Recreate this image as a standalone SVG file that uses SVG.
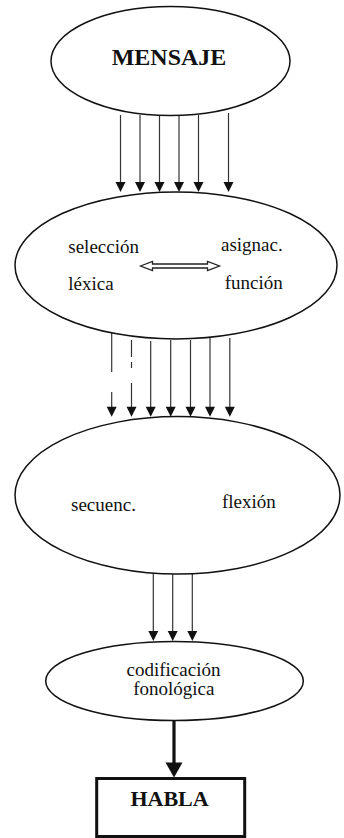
<svg xmlns="http://www.w3.org/2000/svg" width="344" height="838" viewBox="0 0 344 838">
<defs>
<style>
.node{fill:#fff;stroke:#111;stroke-width:1.5}
.t{font-size:19px;fill:#111}
.b{font-weight:bold;fill:#111}
.ln{stroke:#333;stroke-width:1.2;fill:none}
.hd{fill:#111}
</style>
</defs>
<rect width="344" height="838" fill="#fff"/>
<g id="connectors">
  <g>
    <line class="ln" x1="120.5" y1="115" x2="120.5" y2="183"/>
    <line class="ln" x1="140" y1="115" x2="140" y2="183"/>
    <line class="ln" x1="159.5" y1="115" x2="159.5" y2="183"/>
    <line class="ln" x1="179" y1="115" x2="179" y2="183"/>
    <line class="ln" x1="198.5" y1="115" x2="198.5" y2="183"/>
    <line class="ln" x1="228.5" y1="113" x2="228.5" y2="183"/>
    <polygon class="hd" points="115.5,182 125.5,182 120.5,192"/>
    <polygon class="hd" points="135,182 145,182 140,192"/>
    <polygon class="hd" points="154.5,182 164.5,182 159.5,192"/>
    <polygon class="hd" points="174,182 184,182 179,192"/>
    <polygon class="hd" points="193.5,182 203.5,182 198.5,192"/>
    <polygon class="hd" points="223.5,182 233.5,182 228.5,192"/>
  </g>
  <g>
    <line class="ln" x1="111.7" y1="330" x2="111.7" y2="372"/>
    <line class="ln" x1="111.7" y1="392" x2="111.7" y2="408"/>
    <line class="ln" x1="131.5" y1="340" x2="131.5" y2="357"/>
    <line class="ln" x1="131.5" y1="362" x2="131.5" y2="368"/>
    <line class="ln" x1="131.5" y1="383" x2="131.5" y2="408"/>
    <line class="ln" x1="150.7" y1="341" x2="150.7" y2="408"/>
    <line class="ln" x1="170.7" y1="340" x2="170.7" y2="408"/>
    <line class="ln" x1="190.5" y1="340" x2="190.5" y2="408"/>
    <line class="ln" x1="210" y1="338" x2="210" y2="408"/>
    <line class="ln" x1="229.8" y1="338" x2="229.8" y2="408"/>
    <polygon class="hd" points="106.7,406.7 116.7,406.7 111.7,416.7"/>
    <polygon class="hd" points="126.5,406.7 136.5,406.7 131.5,416.7"/>
    <polygon class="hd" points="145.7,406.7 155.7,406.7 150.7,416.7"/>
    <polygon class="hd" points="165.7,406.7 175.7,406.7 170.7,416.7"/>
    <polygon class="hd" points="185.5,406.7 195.5,406.7 190.5,416.7"/>
    <polygon class="hd" points="205,406.7 215,406.7 210,416.7"/>
    <polygon class="hd" points="224.8,406.7 234.8,406.7 229.8,416.7"/>
  </g>
  <g>
    <line class="ln" x1="153.3" y1="573" x2="153.3" y2="632"/>
    <line class="ln" x1="172.7" y1="574" x2="172.7" y2="632"/>
    <line class="ln" x1="192.3" y1="573" x2="192.3" y2="632"/>
    <polygon class="hd" points="148.3,631 158.3,631 153.3,641"/>
    <polygon class="hd" points="167.7,631 177.7,631 172.7,641"/>
    <polygon class="hd" points="187.3,631 197.3,631 192.3,641"/>
  </g>
  <g>
    <line x1="174" y1="720" x2="174" y2="764" stroke="#111" stroke-width="3.2"/>
    <polygon class="hd" points="165.5,762.5 182.5,762.5 174,777.5"/>
  </g>
</g>
<g font-family="'Liberation Serif', 'Times New Roman', 'DejaVu Serif', serif">
<g id="mensaje">
  <ellipse class="node" cx="170.5" cy="61" rx="119.5" ry="54.5"/>
  <text class="b" x="169" y="65" font-size="24" text-anchor="middle">MENSAJE</text>
</g>
<g id="seleccion">
  <ellipse class="node" cx="176" cy="265.5" rx="161" ry="73.5"/>
  <text class="t" x="68.3" y="252.5">selección</text>
  <text class="t" x="68.3" y="290">léxica</text>
  <text class="t" x="282.7" y="251" text-anchor="end">asignac.</text>
  <text class="t" x="282.7" y="289.3" text-anchor="end">función</text>
  <polygon points="140.5,266 152.5,261.5 152.5,264 207.5,264 207.5,261.5 219.5,266 207.5,270.5 207.5,268 152.5,268 152.5,270.5" fill="#fff" stroke="#222" stroke-width="1.3"/>
</g>
<g id="secuenc">
  <ellipse class="node" cx="177.5" cy="495.3" rx="162.5" ry="78.7"/>
  <text class="t" x="71" y="510.7">secuenc.</text>
  <text class="t" x="222" y="508">flexión</text>
</g>
<g id="codificacion">
  <ellipse class="node" cx="174.5" cy="681" rx="128.8" ry="39.5"/>
  <text class="t" x="173.5" y="675.5" text-anchor="middle">codificación</text>
  <text class="t" x="173.8" y="694.5" text-anchor="middle">fonológica</text>
</g>
<g id="habla">
  <rect x="96.7" y="778.5" width="148" height="58" fill="#fff" stroke="#111" stroke-width="3"/>
  <text class="b" x="169.5" y="806" font-size="22" text-anchor="middle">HABLA</text>
</g>
</g>
</svg>
